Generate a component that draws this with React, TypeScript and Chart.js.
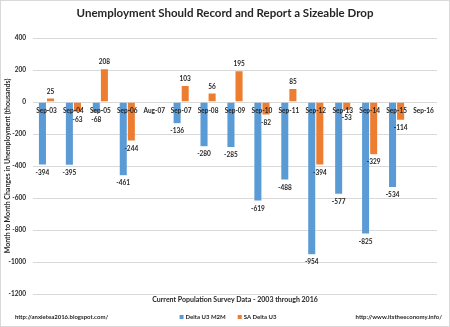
import React, { useEffect, useRef } from 'react';
import { Chart, registerables } from 'chart.js';

Chart.register(...registerables);

const categories = ['Sep-03', 'Sep-04', 'Sep-05', 'Sep-06', 'Aug-07', 'Sep-07', 'Sep-08', 'Sep-09', 'Sep-10', 'Sep-11', 'Sep-12', 'Sep-13', 'Sep-14', 'Sep-15', 'Sep-16'];
const deltaU3M2M: (number | null)[] = [-394, -395, -68, -461, null, -136, -280, -285, -619, -488, -954, -577, -825, -534, null];
const saDeltaU3: (number | null)[] = [25, -63, 208, -244, null, 103, 56, 195, -82, 85, -394, -53, -329, -114, null];
const seriesNames = ['Delta U3 M2M', 'SA Delta U3'];
const yMin = -1200;
const yMax = 400;
const yStep = 200;

const chartTitle = 'Unemployment Should Record and Report a Sizeable Drop';
const xAxisTitle = 'Current Population Survey Data - 2003 through 2016';
const yAxisTitle = 'Month to Month Changes in Unemployment (thousands)';
const leftNote = 'http://anxietea2016.blogspot.com/';
const rightNote = 'http://www.itstheeconomy.info/';

const FONT = 'Lato, "Open Sans", sans-serif';
const BLUE = '#5B9BD5';
const ORANGE = '#ED7D31';
const TEXT = '#262626';

const decorPlugin = {
  id: 'decor',
  beforeDraw(chart: any) {
    const { ctx, width, height } = chart;
    ctx.save();
    ctx.fillStyle = '#ffffff';
    ctx.fillRect(0, 0, width, height);
    ctx.strokeStyle = '#d9d9d9';
    ctx.lineWidth = 1;
    ctx.strokeRect(0.5, 0.5, width - 1, height - 1);
    ctx.restore();
  },
  afterDatasetsDraw(chart: any) {
    const ctx = chart.ctx;
    ctx.save();
    ctx.font = `bold 6.5px ${FONT}`;
    ctx.fillStyle = TEXT;
    ctx.textAlign = 'center';
    ctx.textBaseline = 'middle';
    chart.data.datasets.forEach((ds: any, di: number) => {
      const meta = chart.getDatasetMeta(di);
      meta.data.forEach((el: any, i: number) => {
        const v = ds.data[i];
        if (v === null || v === undefined) return;
        const y = v >= 0 ? el.y - 6.5 : el.y + 7.5;
        ctx.fillText(String(v), el.x, y);
      });
    });
    ctx.restore();
  },
  afterDraw(chart: any) {
    const ctx = chart.ctx;
    ctx.save();
    // Title
    ctx.fillStyle = TEXT;
    ctx.textAlign = 'center';
    ctx.textBaseline = 'middle';
    ctx.font = `bold 11.5px ${FONT}`;
    ctx.fillText(chartTitle, 225, 13);
    // X axis title
    ctx.font = `bold 7px ${FONT}`;
    ctx.fillText(xAxisTitle, 235, 300);
    // Footer notes
    ctx.font = `bold 6px ${FONT}`;
    ctx.textAlign = 'left';
    ctx.fillText(leftNote, 15, 317);
    ctx.textAlign = 'right';
    ctx.fillText(rightNote, 442, 317);
    // Legend
    ctx.font = `bold 6px ${FONT}`;
    ctx.textAlign = 'left';
    const colors = [BLUE, ORANGE];
    const sq = 4;
    const gap = 2;
    const itemGap = 12;
    const widths = seriesNames.map((n) => sq + gap + ctx.measureText(n).width);
    const total = widths.reduce((a, b) => a + b, 0) + itemGap * (widths.length - 1);
    let x = 228 - total / 2;
    const ly = 317;
    seriesNames.forEach((n, i) => {
      ctx.fillStyle = colors[i];
      ctx.fillRect(x, ly - sq / 2, sq, sq);
      ctx.fillStyle = TEXT;
      ctx.fillText(n, x + sq + gap, ly);
      x += widths[i] + itemGap;
    });
    ctx.restore();
  },
};

export default function App() {
  const canvasRef = useRef<HTMLCanvasElement | null>(null);

  useEffect(() => {
    document.body.style.margin = '0';
    const canvas = canvasRef.current;
    if (!canvas) return;
    const chart = new Chart(canvas, {
      type: 'bar',
      data: {
        labels: categories,
        datasets: [
          {
            label: seriesNames[0],
            data: deltaU3M2M,
            backgroundColor: BLUE,
            borderColor: 'rgba(255,255,255,0.5)',
            borderWidth: 0.5,
            categoryPercentage: 0.6,
            barPercentage: 1,
          },
          {
            label: seriesNames[1],
            data: saDeltaU3,
            backgroundColor: ORANGE,
            borderColor: 'rgba(255,255,255,0.5)',
            borderWidth: 0.5,
            categoryPercentage: 0.6,
            barPercentage: 1,
          },
        ],
      },
      options: {
        animation: false,
        responsive: false,
        devicePixelRatio: 1,
        layout: { padding: { top: 38, bottom: 33, left: 0, right: 13 } },
        plugins: {
          legend: { display: false },
          title: { display: false },
          tooltip: { enabled: false },
        },
        scales: {
          x: {
            position: { y: 0 } as any,
            grid: { display: false, drawTicks: false },
            border: { display: false },
            ticks: {
              z: 1,
              padding: 5,
              color: TEXT,
              font: { family: FONT, size: 6.5, weight: 'bold' },
              maxRotation: 0,
              autoSkip: false,
            },
            afterFit(scale: any) {
              scale.height = 0;
            },
          },
          y: {
            min: yMin,
            max: yMax,
            grid: { color: '#d9d9d9', drawTicks: false, lineWidth: 1 },
            border: { display: false },
            ticks: {
              stepSize: yStep,
              padding: 7,
              color: TEXT,
              font: { family: FONT, size: 6.5, weight: 'bold' },
              callback: (v: any) => String(v),
            },
            title: {
              display: true,
              text: yAxisTitle,
              color: TEXT,
              font: { family: FONT, size: 7, weight: 'bold' },
              padding: { top: 4, bottom: 0 },
            },
            afterFit(scale: any) {
              scale.width = 33;
            },
          },
        },
      },
      plugins: [decorPlugin],
    });
    return () => chart.destroy();
  }, []);

  return (
    <div style={{ width: 450, height: 327 }}>
      <canvas ref={canvasRef} width={450} height={327} />
    </div>
  );
}
